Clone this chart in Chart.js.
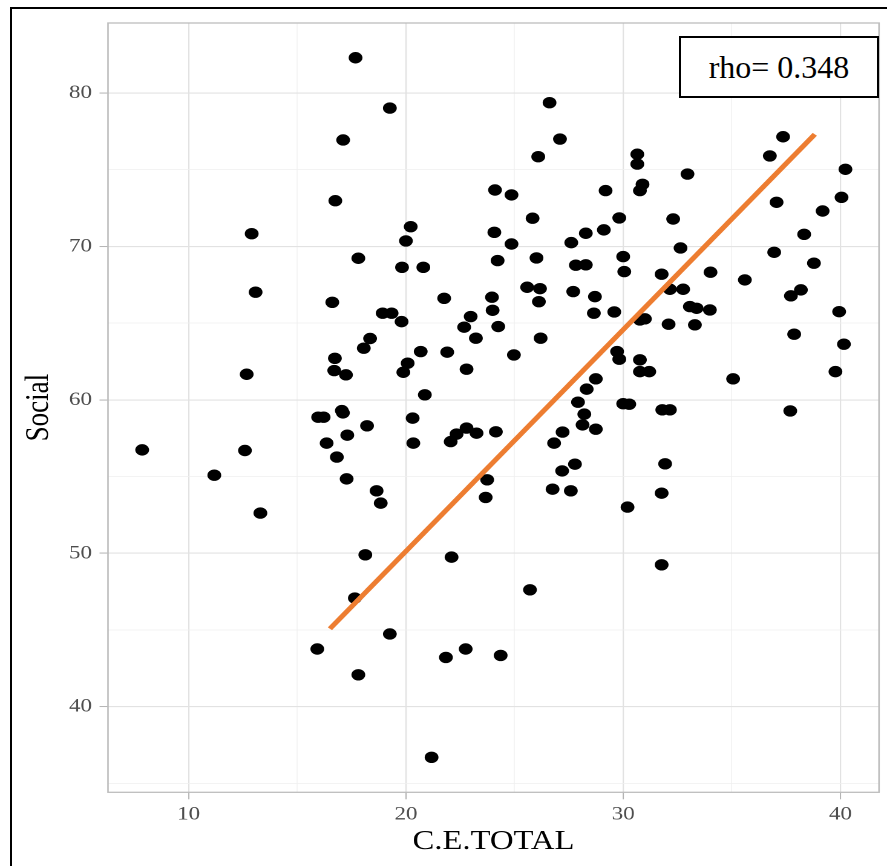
<!DOCTYPE html>
<html>
<head>
<meta charset="utf-8">
<script src="https://cdn.jsdelivr.net/npm/chart.js@4.4.1/dist/chart.umd.min.js"></script>
<style>
  html, body { margin:0; padding:0; background:#fff; }
  body { width:887px; height:866px; overflow:hidden; position:relative; }
  #frame { position:absolute; left:10px; top:7px; width:1000px; height:1000px; border:2px solid #000; box-sizing:border-box; }
  #wrap { position:absolute; left:0; top:0; width:733px; height:866px; transform:scaleX(1.2101); transform-origin:0 0; }
  #rho { position:absolute; left:679px; top:36px; width:200px; height:62px; box-sizing:border-box; border:2px solid #000; background:#fff;
         display:flex; align-items:center; justify-content:center; font-family:"Liberation Serif","Times New Roman",serif; font-size:32px; color:#000; }
</style>
</head>
<body>
<div id="frame"></div>
<div id="wrap"><canvas id="c"></canvas></div>
<div id="rho">rho= 0.348</div>
<script>
// ---- data ----
const ceTotal = [
  17.68,17.11,16.75,12.90,17.81,13.08,16.61,18.35,18.06,16.73,16.70,17.24,12.67,
  15.96,16.21,17.05,17.10,18.21,7.86,12.59,11.18,17.30,16.35,16.82,17.27,13.30,18.13,17.65,15.92,17.81,
  20.31,20.34,22.06,22.33,22.79,23.25,24.14,18.65,18.84,23.74,23.67,22.10,25.71,19.26,21.84,22.75,24.36,21.18,
  26.82,27.21,27.92,28.21,28.13,28.74,30.00,30.28,27.19,27.78,26.75,27.59,30.20,
  31.80,32.15,37.69,31.93,31.77,31.77,
  19.26,26.61,27.09,26.09,24.10,24.86,29.19,25.83,29.82,20.22,20.00,24.07,24.86,27.61,28.28,29.11,
  19.82,20.80,24.22,26.01,27.82,28.28,30.00,30.05,25.58,26.17,26.12,27.70,28.70,28.65,29.59,
  21.76,23.96,23.99,24.25,22.98,22.68,23.22,18.93,19.34,19.80,20.68,21.90,20.08,19.88,24.97,26.20,22.79,20.87,
  29.72,29.82,28.74,28.32,
  37.36,36.75,30.65,30.65,32.96,40.23,30.89,30.77,37.06,40.05,39.18,38.33,32.30,32.64,36.95,31.77,34.02,38.78,
  35.60,32.15,32.76,37.72,38.18,33.07,33.38,33.99,39.94,30.77,31.00,32.09,33.30,37.87,40.16,30.77,30.77,31.20,35.06,39.77
];
const social = [
  82.30,76.94,72.98,70.83,69.23,67.02,66.36,64.00,63.37,62.71,61.91,61.63,61.67,
  58.87,58.87,59.30,59.15,58.31,56.74,56.70,55.09,57.70,57.18,56.27,54.85,52.62,49.90,47.08,43.76,42.08,
  58.81,57.18,57.28,57.77,58.16,57.83,57.92,54.07,53.27,54.79,53.64,49.75,47.62,44.74,43.21,43.76,43.34,36.70,
  57.18,57.90,59.85,59.07,58.37,58.09,59.75,59.72,55.37,55.81,54.18,54.07,53.01,
  59.35,59.35,59.28,55.83,53.92,49.25,
  79.02,79.37,77.00,75.85,73.68,73.36,73.64,71.84,71.86,71.29,70.36,70.92,70.16,70.25,70.86,71.08,
  68.64,68.64,69.08,69.25,68.78,68.80,69.34,68.36,67.34,67.25,66.40,67.06,66.73,65.65,65.73,
  66.62,66.69,65.84,64.78,65.43,64.74,64.02,65.65,65.65,65.10,63.15,63.11,62.39,61.80,62.93,64.02,62.00,60.33,
  63.15,62.65,61.37,60.70,
  77.15,75.90,76.01,75.37,74.72,75.03,74.05,73.64,72.88,73.20,72.31,70.79,71.79,69.90,69.62,68.19,68.32,68.91,
  67.82,67.21,67.21,66.78,67.17,66.08,65.97,65.86,65.75,65.21,65.28,64.93,64.89,64.28,63.63,62.61,61.84,61.84,61.37,61.84
];
const fitX = [16.5, 38.82];
const fitY = [45.08, 77.31];
const xTicks = [10, 15, 20, 25, 30, 35, 40];
const yTicks = [35, 40, 45, 50, 55, 60, 65, 70, 75, 80];
const xTitle = "C.E.TOTAL";
const yTitle = "Social";

const points = ceTotal.map((v, i) => ({ x: v, y: social[i] }));
const fitLine = fitX.map((v, i) => ({ x: v, y: fitY[i] }));

const isMajor = v => v % 10 === 0;
const gridCfg = {
  color: ctx => (ctx.tick && isMajor(ctx.tick.value)) ? '#e2e2e2' : '#efefef',
  lineWidth: ctx => (ctx.tick && isMajor(ctx.tick.value)) ? 1.1 : 0.7,
  tickColor: ctx => (ctx.tick && isMajor(ctx.tick.value)) ? '#b3b3b3' : 'rgba(0,0,0,0)',
  tickLength: 7,
  tickWidth: 1,
  drawTicks: true
};

const panelBorder = {
  id: 'panelBorder',
  afterDatasetsDraw(chart) {
    const a = chart.chartArea, c = chart.ctx;
    c.save();
    c.strokeStyle = '#bdbdbd';
    c.lineWidth = 1.3;
    c.strokeRect(a.left, a.top, a.right - a.left, a.bottom - a.top);
    c.restore();
  }
};

new Chart(document.getElementById('c'), {
  type: 'scatter',
  data: {
    datasets: [
      { type: 'line', data: fitLine, borderColor: '#ED7D31', borderWidth: 4.5, pointRadius: 0, fill: false, order: 0, borderCapStyle: 'butt' },
      { data: points, backgroundColor: '#000', borderWidth: 0, pointRadius: 5.7, pointHoverRadius: 5.7, order: 1 }
    ]
  },
  options: {
    responsive: true,
    maintainAspectRatio: false,
    animation: false,
    devicePixelRatio: 2,
    layout: { padding: { top: 23, right: 6.6, left: 0, bottom: 0 } },
    plugins: { legend: { display: false }, tooltip: { enabled: false } },
    scales: {
      x: {
        type: 'linear', min: 6.287, max: 41.776,
        afterBuildTicks: s => { s.ticks = xTicks.map(v => ({ value: v })); },
        afterFit: s => { s.height = 73.7; },
        grid: gridCfg,
        border: { display: false },
        ticks: {
          autoSkip: false, maxRotation: 0, padding: 4,
          color: '#4d4d4d', font: { family: '"Liberation Serif", serif', size: 19 },
          callback: v => isMajor(v) ? String(v) : ''
        },
        title: { display: true, text: xTitle, color: '#000', font: { family: '"Liberation Serif", serif', size: 27, lineHeight: 1 }, padding: { top: 0, bottom: 10.5 } }
      },
      y: {
        type: 'linear', min: 34.42, max: 84.565,
        afterBuildTicks: s => { s.ticks = yTicks.map(v => ({ value: v })); },
        afterFit: s => { s.width = 89.25; },
        grid: gridCfg,
        border: { display: false },
        ticks: {
          autoSkip: false, padding: 6.2,
          color: '#4d4d4d', font: { family: '"Liberation Serif", serif', size: 19 },
          callback: v => isMajor(v) ? String(v) : ''
        },
        title: { display: true, text: yTitle, color: '#000', font: { family: '"Liberation Serif", serif', size: 27, lineHeight: 1 }, padding: { top: 19, bottom: 0 } }
      }
    }
  },
  plugins: [panelBorder]
});
</script>
</body>
</html>
